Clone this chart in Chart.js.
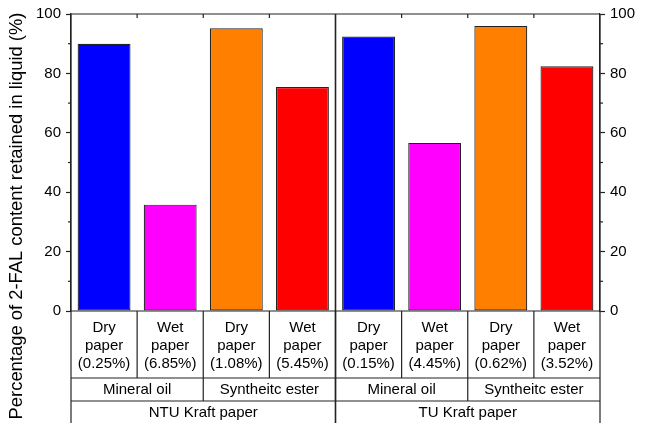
<!DOCTYPE html>
<html><head><meta charset="utf-8">
<script src="https://cdn.jsdelivr.net/npm/chart.js@4.4.0/dist/chart.umd.min.js"></script>
<style>html,body{margin:0;padding:0;background:#fff;}#wrap{width:651px;height:423px;}</style>
</head><body><div id="wrap"><canvas id="c" width="651" height="423"></canvas></div>
<script>
// ---- data ----
const conditions = ["Dry paper","Wet paper","Dry paper","Wet paper","Dry paper","Wet paper","Dry paper","Wet paper"];
const moisture = ["(0.25%)","(6.85%)","(1.08%)","(5.45%)","(0.15%)","(4.45%)","(0.62%)","(3.52%)"];
const liquids = ["Mineral oil","Syntheitc ester","Mineral oil","Syntheitc ester"];
const papers = ["NTU Kraft paper","TU Kraft paper"];
const retained = [90.0, 35.8, 95.2, 75.4, 92.4, 56.6, 96.0, 82.4];
const yTicks = [0, 20, 40, 60, 80, 100];
const yMinorTicks = [10, 30, 50, 70, 90];
const yTitle = "Percentage of 2-FAL content retained in liquid (%)";
const barColors = ["#0000FF","#FF00FF","#FF8000","#FF0000","#0000FF","#FF00FF","#FF8000","#FF0000"];

const FONT = "'Liberation Sans', Arial, sans-serif";
const LINE = "#222";

const tablePlugin = {
  id: 'table',
  afterDraw(chart) {
    const {ctx, chartArea: ca, scales: {x, y}} = chart;
    const H = chart.height;
    const n = conditions.length;
    const cw = x.getPixelForValue(1) - x.getPixelForValue(0);
    const edge = i => x.getPixelForValue(i) - cw / 2;
    const yBase = y.getPixelForValue(0);
    const r1 = yBase + 67, r2 = r1 + 23;
    ctx.save();
    ctx.strokeStyle = LINE;
    ctx.lineWidth = 1.2;
    const line = (x1, y1, x2, y2) => { ctx.beginPath(); ctx.moveTo(x1, y1); ctx.lineTo(x2, y2); ctx.stroke(); };
    // frame
    line(ca.left, ca.top, ca.right, ca.top);
    line(ca.left, yBase, ca.right, yBase);
    line(ca.left, ca.top, ca.left, H);
    line(ca.right, ca.top, ca.right, H);
    ctx.lineWidth = 1.6;
    line(edge(4), ca.top, edge(4), H);
    ctx.lineWidth = 1.2;
    // top inward ticks
    for (let i = 1; i < n; i++) if (i !== 4) line(edge(i), ca.top, edge(i), ca.top + 4);
    // minor ticks
    yMinorTicks.forEach(v => {
      const py = y.getPixelForValue(v);
      line(ca.left - 3, py, ca.left, py);
      line(ca.right, py, ca.right + 3, py);
    });
    // table rows
    line(ca.left, r1, ca.right, r1);
    line(ca.left, r2, ca.right, r2);
    for (let i = 1; i < n; i++) line(edge(i), yBase, edge(i), r1);
    for (let j = 1; j < liquids.length; j++) line(edge(2 * j), r1, edge(2 * j), r2);
    // texts
    ctx.fillStyle = "#000";
    ctx.font = "15px " + FONT;
    ctx.textAlign = "center";
    ctx.textBaseline = "middle";
    for (let i = 0; i < n; i++) {
      const cx = x.getPixelForValue(i);
      const parts = conditions[i].split(" ").concat([moisture[i]]);
      parts.forEach((t, k) => ctx.fillText(t, cx, yBase + 17 + k * 18));
    }
    liquids.forEach((t, j) => ctx.fillText(t, (edge(2 * j) + edge(2 * j + 2)) / 2, r1 + 12));
    papers.forEach((t, k) => ctx.fillText(t, (edge(4 * k) + edge(4 * k + 4)) / 2, r2 + 12));
    // y title
    ctx.font = "18.4px " + FONT;
    ctx.translate(17, 216);
    ctx.rotate(-Math.PI / 2);
    ctx.fillText(yTitle, 0, 0);
    ctx.restore();
  }
};

const axisCommon = {
  min: 0, max: 100,
  afterBuildTicks: s => { s.ticks = yTicks.map(v => ({value: v})); },
  ticks: {font: {family: FONT, size: 15}, color: "#000", padding: 5},
  grid: {drawOnChartArea: false, drawTicks: true, tickLength: 5, color: LINE, tickWidth: 1.2},
  border: {display: true, color: LINE, width: 1.2}
};

new Chart(document.getElementById('c'), {
  type: 'bar',
  data: {
    labels: conditions.map((c, i) => c + " " + moisture[i]),
    datasets: [{
      data: retained,
      backgroundColor: barColors,
      borderColor: "#222",
      borderWidth: 1.2,
      borderSkipped: false,
      barPercentage: 0.8,
      categoryPercentage: 1.0
    }]
  },
  options: {
    responsive: false,
    animation: false,
    layout: {padding: {top: 14, bottom: 112, left: 0, right: 0}},
    plugins: {legend: {display: false}, tooltip: {enabled: false}},
    scales: {
      x: {display: false, offset: true},
      y: Object.assign({}, axisCommon, {position: 'left', afterFit: s => { s.width = 71; }}),
      y2: Object.assign({}, axisCommon, {position: 'right', afterFit: s => { s.width = 51; }})
    }
  },
  plugins: [tablePlugin]
});
</script>
</body></html>
